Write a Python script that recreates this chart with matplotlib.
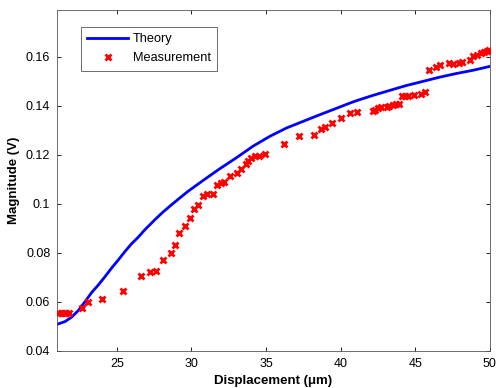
import matplotlib
matplotlib.use("Agg")
import matplotlib.pyplot as plt

plt.rcParams["font.family"] = ["Liberation Sans", "DejaVu Sans"]

# ------------------------------------------------------------
# Data
# ------------------------------------------------------------
theory_x = [21.0, 21.52, 21.96, 22.41, 22.86, 23.3, 23.75, 24.2, 24.64,
            25.09, 25.53, 25.98, 26.43, 26.87, 27.54, 28.1, 28.66, 29.22,
            29.77, 30.34, 30.89, 31.45, 31.9, 32.57, 33.02, 34.13, 35.25,
            36.37, 37.48, 38.6, 39.71, 40.6, 41.05, 42.17, 43.28, 44.4,
            45.52, 46.63, 47.75, 48.86, 50.0]
theory_y = [0.0509, 0.0520, 0.0538, 0.0565, 0.0601, 0.0638, 0.0669, 0.0703,
            0.0738, 0.0771, 0.0805, 0.0837, 0.0864, 0.0894, 0.0935, 0.0967,
            0.0996, 0.1024, 0.1051, 0.1076, 0.1100, 0.1124, 0.1143, 0.1170,
            0.1188, 0.1235, 0.1275, 0.1309, 0.1336, 0.1363, 0.1389, 0.1410,
            0.1420, 0.1442, 0.1462, 0.1482, 0.1499, 0.1516, 0.1531, 0.1544,
            0.1560]

meas_x = [21.07, 21.25, 21.43, 21.6, 21.78, 22.68, 23.08, 24.01, 25.42,
          26.6, 27.2, 27.61, 28.08, 28.6, 28.88, 29.15, 29.55, 29.87,
          30.2, 30.42, 30.74, 31.07, 31.45, 31.7, 32.01, 32.17, 32.61,
          33.02, 33.3, 33.64, 33.79, 34.02, 34.24, 34.51, 34.93, 36.2,
          37.21, 38.21, 38.66, 38.95, 39.42, 40.02, 40.62, 41.09, 42.16,
          42.33, 42.5, 42.68, 43.1, 43.26, 43.5, 43.73, 43.95, 44.1,
          44.33, 44.55, 44.95, 45.36, 45.67, 45.9, 46.39, 46.7, 47.26,
          47.55, 47.93, 48.17, 48.69, 48.89, 49.16, 49.43, 49.6, 49.8,
          49.96]
meas_y = [0.0555, 0.0556, 0.0556, 0.0556, 0.0555, 0.0577, 0.0600, 0.0613,
          0.0646, 0.0706, 0.0722, 0.0728, 0.0769, 0.0801, 0.0834, 0.0879,
          0.0910, 0.0943, 0.0980, 0.0996, 0.1030, 0.1038, 0.1038, 0.1076,
          0.1083, 0.1087, 0.1114, 0.1127, 0.1141, 0.1162, 0.1173, 0.1187,
          0.1193, 0.1193, 0.1203, 0.1245, 0.1278, 0.1282, 0.1303, 0.1314,
          0.1331, 0.1350, 0.1370, 0.1376, 0.1380, 0.1384, 0.1391, 0.1396,
          0.1396, 0.1397, 0.1403, 0.1405, 0.1407, 0.1441, 0.1441, 0.1441,
          0.1444, 0.1449, 0.1457, 0.1547, 0.1559, 0.1566, 0.1573, 0.1571,
          0.1576, 0.1580, 0.1585, 0.1601, 0.1608, 0.1615, 0.1619, 0.1624,
          0.1629]

x_ticks = [25, 30, 35, 40, 45, 50]
y_ticks = [0.04, 0.06, 0.08, 0.1, 0.12, 0.14, 0.16]
y_tick_labels = ["0.04", "0.06", "0.08", "0.1", "0.12", "0.14", "0.16"]

# ------------------------------------------------------------
# Plot
# ------------------------------------------------------------
fig = plt.figure(figsize=(4.96, 3.88), dpi=100)
ax = fig.add_axes([0.1155, 0.0954, 0.8718, 0.8788])

ax.plot(theory_x, theory_y, color="#0000ff", lw=2, label="Theory", zorder=2)
ax.plot(meas_x, meas_y, ls="none", marker="x", ms=4, mew=2,
        color="#ff0000", label="Measurement", zorder=3)

ax.set_xlim(21, 50)
ax.set_ylim(0.04, 0.179)
ax.set_xticks(x_ticks)
ax.set_yticks(y_ticks)
ax.set_yticklabels(y_tick_labels)
ax.tick_params(direction="in", top=True, right=True, labelsize=9,
               length=3, width=0.6, colors="#000000", pad=5)
for s in ax.spines.values():
    s.set_linewidth(0.6)
    s.set_color("#555555")

ax.set_xlabel("Displacement (\u03bcm)", fontsize=9.5, fontweight="bold",
              labelpad=4)
ax.set_ylabel("Magnitude (V)", fontsize=9.5, fontweight="bold", labelpad=4)

leg = ax.legend(loc="upper left", bbox_to_anchor=(0.055, 0.95),
                fontsize=9.2, frameon=True, fancybox=False, framealpha=1,
                edgecolor="#555555", borderpad=0.5, borderaxespad=0,
                handlelength=3.2, labelspacing=0.55, handletextpad=0.35)
leg.get_frame().set_linewidth(0.6)

fig.savefig("out.png", dpi=100)
